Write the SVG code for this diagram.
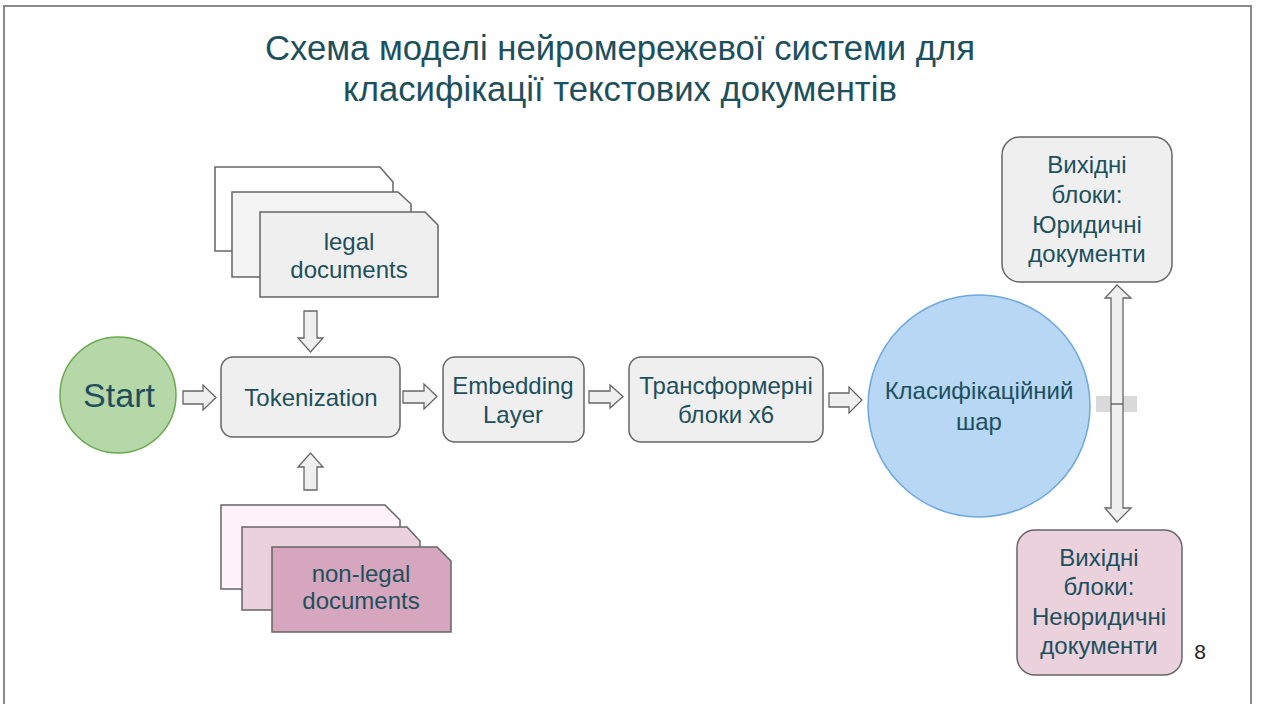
<svg xmlns="http://www.w3.org/2000/svg" width="1262" height="704" viewBox="0 0 1262 704">
<style>
text{font-family:"Liberation Sans",Arial,sans-serif;fill:#1e4f5c;text-anchor:middle}
.t{font-size:34.7px}
.n{font-size:24px}
.box{fill:#efefef;stroke:#666;stroke-width:1.5}
.doc{stroke:#666;stroke-width:1.5}
.arr{fill:#efefef;stroke:#666;stroke-width:1.3;stroke-linejoin:miter}
</style>
<rect width="1262" height="704" fill="#fff"/>
<rect x="4" y="6" width="1247" height="740" fill="none" stroke="#8a8a8a" stroke-width="2"/>
<g id="title">
<text class="t" x="620" y="60">Схема моделі нейромережевої системи для</text>
<text class="t" x="620" y="101">класифікації текстових документів</text>
</g>
<g id="start">
<circle cx="118" cy="395" r="58" fill="#b6d7a8" stroke="#6aa84f" stroke-width="1.5"/>
<text x="119" y="407" style="font-size:34px">Start</text>
</g>
<g id="legal-docs">
<path class="doc" fill="#ffffff" d="M215,167 H380 L393,182 V251 H215 Z"/>
<path class="doc" fill="#f3f3f3" d="M232,192 H398 L411,204 V277 H232 Z"/>
<path class="doc" fill="#efefef" d="M260,212 H425 L438,225 V297 H260 Z"/>
<text class="n" x="349" y="250">legal</text>
<text class="n" x="349" y="278">documents</text>
</g>
<g id="nonlegal-docs">
<path class="doc" fill="#fff2f8" d="M221,505 H385 L400,520 V589 H221 Z"/>
<path class="doc" fill="#ead1dc" d="M242,527 H407 L420,541 V610 H242 Z"/>
<path class="doc" fill="#d5a6bd" d="M272,547 H437 L451,561 V632 H272 Z"/>
<text class="n" x="361" y="582">non-legal</text>
<text class="n" x="361" y="609">documents</text>
</g>
<g id="tokenization">
<rect class="box" x="221" y="357" width="179" height="80" rx="12"/>
<text class="n" x="311" y="406">Tokenization</text>
</g>
<g id="embedding">
<rect class="box" x="443" y="357" width="141" height="85" rx="12"/>
<text class="n" x="513" y="394">Embedding</text>
<text class="n" x="513" y="423">Layer</text>
</g>
<g id="transformer">
<rect class="box" x="629" y="357" width="194" height="85" rx="12"/>
<text class="n" x="726" y="394">Трансформерні</text>
<text class="n" x="726" y="423">блоки x6</text>
</g>
<g id="classifier">
<circle cx="979" cy="406" r="111" fill="#b7d7f4" stroke="#6fa8dc" stroke-width="1.5"/>
<text class="n" x="979" y="399">Класифікаційний</text>
<text class="n" x="979" y="430">шар</text>
</g>
<g id="out-legal">
<rect class="box" x="1002" y="137" width="170" height="145" rx="18"/>
<text class="n" x="1087" y="173">Вихідні</text>
<text class="n" x="1087" y="203">блоки:</text>
<text class="n" x="1087" y="233">Юридичні</text>
<text class="n" x="1087" y="262">документи</text>
</g>
<g id="out-nonlegal">
<rect x="1017" y="530" width="165" height="145" rx="18" fill="#ead1dc" stroke="#666" stroke-width="1.5"/>
<text class="n" x="1099" y="566">Вихідні</text>
<text class="n" x="1099" y="595">блоки:</text>
<text class="n" x="1099" y="625">Неюридичні</text>
<text class="n" x="1099" y="654">документи</text>
</g>
<g id="connectors">
<path class="arr" d="M183,391 H203 V385 L216,397.5 L203,410 V404 H183 Z"/>
<path class="arr" d="M403,391 H424 V384 L437,396.5 L424,409 V403 H403 Z"/>
<path class="arr" d="M589,391 H610 V385 L623,396.5 L610,408 V403 H589 Z"/>
<path class="arr" d="M829,393 H849 V387 L862,400 L849,413 V407 H829 Z"/>
<path class="arr" d="M304,311 H317 V338 H323 L310.5,352 L298,338 H304 Z"/>
<path class="arr" d="M304,490 H317 V467 H323 L310.5,453 L298,467 H304 Z"/>
<rect x="1096" y="396" width="41" height="16" fill="#d9d9d9"/>
<path class="arr" d="M1117,285 L1131,298 H1123 V508 H1131 L1117,522 L1105,508 H1111 V298 H1105 Z"/>
<line x1="1111" y1="404" x2="1123" y2="404" stroke="#555" stroke-width="1.3"/>
</g>
<text x="1200" y="659" style="font-size:21px;fill:#222">8</text>
</svg>
